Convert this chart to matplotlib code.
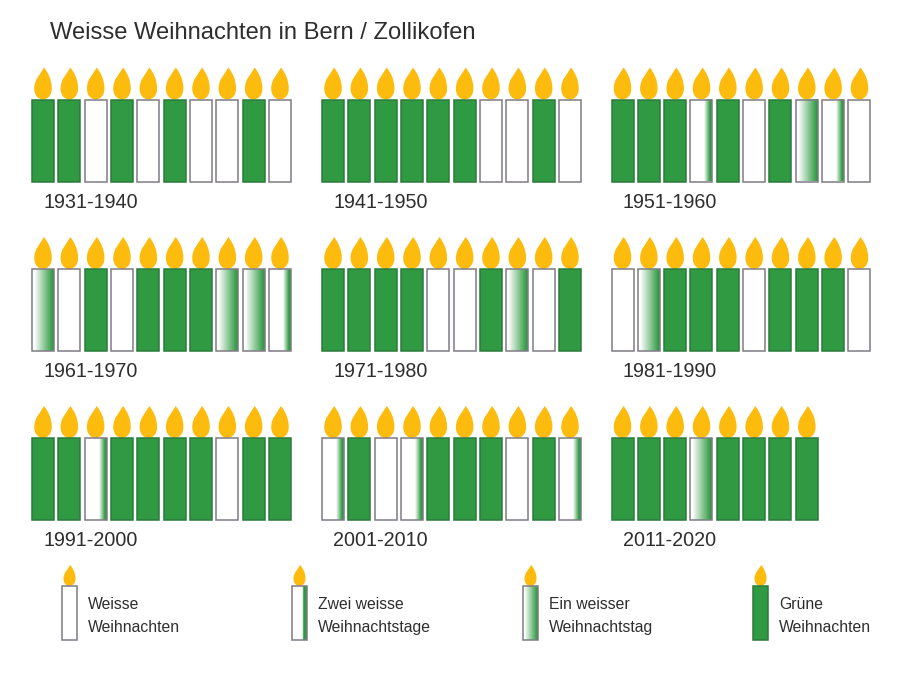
import matplotlib

matplotlib.use("Agg")
import matplotlib.pyplot as plt
import numpy as np
from matplotlib.colors import LinearSegmentedColormap
from matplotlib.patches import PathPatch, Rectangle
from matplotlib.path import Path

plt.rcParams["font.family"] = ["Liberation Sans", "DejaVu Sans"]

TITLE = "Weisse Weihnachten in Bern / Zollikofen"

# W = weisse Weihnachten, T = zwei weisse Tage, E = ein weisser Tag, G = gruen
DECADES = [
    "1931-1940", "1941-1950", "1951-1960",
    "1961-1970", "1971-1980", "1981-1990",
    "1991-2000", "2001-2010", "2011-2020",
]
WINTERS = [
    list("GGWGWGWWGW"), list("GGGGGGWWGW"), list("GGGTGWGETW"),
    list("EWGWGGGEET"), list("GGGGWWGEWG"), list("WEGGGWGGGW"),
    list("GGTGGGGWGG"), list("TGWTGGGWGT"), list("GGGEGGGG"),
]
# the legend's "two white days" candle has a harder green stripe (Z)
LEGEND_KINDS = ["W", "Z", "E", "G"]
LEGEND_LINES = [
    ("Weisse", "Weihnachten"),
    ("Zwei weisse", "Weihnachtstage"),
    ("Ein weisser", "Weihnachtstag"),
    ("Grüne", "Weihnachten"),
]

GREEN = "#2f9a42"
GREEN_EDGE = "#2b7a3c"
WHITE_EDGE = "#7f7c84"
FLAME = "#fdbb0d"
TEXT = "#2e2e2e"

COL_X = [32, 322, 611.5]
ROW_TOP = [99.5, 269, 438]
BODY_H = 82
BODY_W = 22
STEP = 26.33
LEGEND_X = [62, 292, 523, 753]
LEGEND_TEXT_X = [88, 318, 549, 779]

# each gradient: position across the candle -> white..green
GRADIENTS = {
    "E": LinearSegmentedColormap.from_list(
        "e", [(0, "white"), (0.1, "white"), (0.95, GREEN), (1, GREEN)]
    ),
    "T": LinearSegmentedColormap.from_list(
        "t", [(0, "white"), (0.64, "white"), (0.92, GREEN), (1, GREEN)]
    ),
    "Z": LinearSegmentedColormap.from_list(
        "z", [(0, "white"), (0.7, "white"), (0.78, GREEN), (1, GREEN)]
    ),
}

FLAME_PATH = Path(
    [
        (0.06, 0), (0.28, 0.16), (0.5, 0.36), (0.5, 0.66),
        (0.5, 0.88), (0.25, 1), (0, 1),
        (-0.25, 1), (-0.5, 0.88), (-0.5, 0.66),
        (-0.5, 0.36), (-0.16, 0.22), (0.06, 0),
    ],
    [Path.MOVETO] + [Path.CURVE4] * 12,
)


def draw_candle(ax, x, top, kind, width, height, flame_w, flame_h):
    cx = x + width / 2
    verts = FLAME_PATH.vertices * [flame_w, flame_h] + [cx, top - flame_h]
    ax.add_patch(PathPatch(Path(verts, FLAME_PATH.codes), fc=FLAME, ec="none", zorder=2))

    if kind in GRADIENTS:
        ax.imshow(
            np.linspace(0, 1, 64).reshape(1, -1),
            cmap=GRADIENTS[kind],
            extent=(x, x + width, top + height, top),
            aspect="auto",
            interpolation="bilinear",
            zorder=3,
        )
    face = {"W": "white", "G": GREEN}.get(kind, "none")
    edge = GREEN_EDGE if kind == "G" else WHITE_EDGE
    ax.add_patch(Rectangle((x, top), width, height, fc=face, ec=edge, lw=1.1, zorder=4))


def main():
    fig = plt.figure(figsize=(9, 6.74), dpi=100)
    ax = fig.add_axes([0, 0, 1, 1])
    ax.axis("off")

    ax.text(50, 33, TITLE, fontsize=17.1, color=TEXT, va="center")

    for i, (label, winters) in enumerate(zip(DECADES, WINTERS)):
        col_x = COL_X[i % 3]
        top = ROW_TOP[i // 3]
        for j, kind in enumerate(winters):
            draw_candle(ax, col_x + j * STEP, top, kind, BODY_W, BODY_H, 17.5, 32)
        ax.text(col_x + 11.5, top + BODY_H + 20.5, label, fontsize=14.2, color=TEXT, va="center")

    for x, tx, kind, lines in zip(LEGEND_X, LEGEND_TEXT_X, LEGEND_KINDS, LEGEND_LINES):
        draw_candle(ax, x, 586, kind, 15, 54, 12, 21)
        ax.text(tx, 604.5, lines[0], fontsize=11.3, color=TEXT, va="center")
        ax.text(tx, 627.5, lines[1], fontsize=11.3, color=TEXT, va="center")

    ax.set_xlim(0, 900)
    ax.set_ylim(674, 0)
    fig.savefig("out.png", dpi=100)
    plt.close(fig)


if __name__ == "__main__":
    main()
